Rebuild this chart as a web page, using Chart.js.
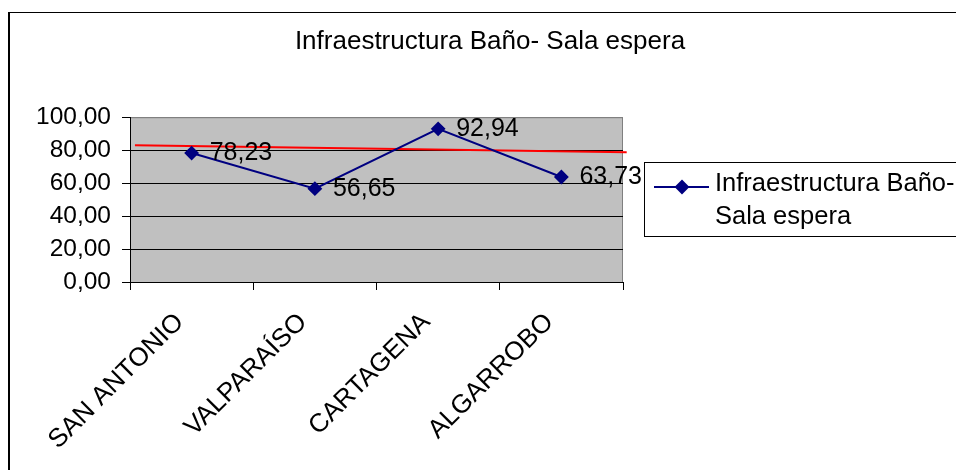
<!DOCTYPE html>
<html>
<head>
<meta charset="utf-8">
<script src="https://cdn.jsdelivr.net/npm/chart.js@4/dist/chart.umd.min.js"></script>
<style>
  body { margin: 0; background: #fff; overflow: hidden; }
  #frame { position: absolute; left: 8px; top: 12px; width: 2000px; height: 2000px;
           border-left: 2px solid #000; border-top: 1px solid #000; }
  #chart { position: absolute; left: 0; top: 0; }
</style>
</head>
<body>
<div id="frame"></div>
<canvas id="chart" width="956" height="470"></canvas>
<script>
const chartTitle = "Infraestructura Baño- Sala espera";
const seriesLabel = "Infraestructura Baño- Sala espera";
const legendLines = ["Infraestructura Baño-", "Sala espera"];
const cities = ["SAN ANTONIO", "VALPARAÍSO", "CARTAGENA", "ALGARROBO"];
const scores = [78.23, 56.65, 92.94, 63.73];
// red reference line (position in category units)
const refLineX = [-0.46, 3.53];
const refLineY = [83.0, 78.8];
const yTicks = [0, 20, 40, 60, 80, 100];

const FONT = "'Liberation Sans', Arial, sans-serif";
const NAVY = "#000080";

function fmt(v) {
    return v.toFixed(2).replace(".", ",");
}

const plotBackground = {
    id: "plotBackground",
    beforeDraw(chart) {
        const { ctx, chartArea: a } = chart;
        ctx.save();
        ctx.fillStyle = "#c0c0c0";
        ctx.fillRect(a.left, a.top, a.right - a.left, a.bottom - a.top);
        ctx.strokeStyle = "#808080";
        ctx.lineWidth = 1;
        ctx.strokeRect(a.left + 0.5, a.top + 0.5, a.right - a.left - 1, a.bottom - a.top);
        ctx.restore();
    }
};

const valueLabels = {
    id: "valueLabels",
    afterDatasetsDraw(chart) {
        const { ctx } = chart;
        const meta = chart.getDatasetMeta(0);
        ctx.save();
        ctx.font = "25px " + FONT;
        ctx.fillStyle = "#000";
        ctx.textAlign = "left";
        ctx.textBaseline = "middle";
        meta.data.forEach((pt, i) => {
            ctx.fillText(fmt(scores[i]), pt.x + 18, pt.y);
        });
        ctx.restore();
    }
};

const boxLegend = {
    id: "boxLegend",
    afterDraw(chart) {
        const { ctx } = chart;
        ctx.save();
        ctx.strokeStyle = "#000";
        ctx.lineWidth = 1;
        ctx.strokeRect(644.5, 162.5, 400, 74);
        ctx.strokeStyle = NAVY;
        ctx.lineWidth = 2;
        ctx.beginPath();
        ctx.moveTo(654, 187);
        ctx.lineTo(709, 187);
        ctx.stroke();
        Chart.helpers.drawPoint(ctx, { pointStyle: "rectRot", radius: 6, borderWidth: 1 }, 682, 187);
        ctx.fillStyle = NAVY;
        ctx.fill();
        ctx.fillStyle = "#000";
        ctx.font = "25.5px " + FONT;
        ctx.textBaseline = "middle";
        ctx.fillText(legendLines[0], 715, 184);
        ctx.fillText(legendLines[1], 715, 217);
        ctx.restore();
    }
};

new Chart(document.getElementById("chart"), {
    type: "line",
    data: {
        labels: cities,
        datasets: [{
            label: seriesLabel,
            data: scores,
            borderColor: NAVY,
            borderWidth: 2,
            pointStyle: "rectRot",
            pointRadius: 6,
            pointBackgroundColor: NAVY,
            pointBorderColor: NAVY,
            tension: 0
        },
        {
            label: "ref",
            data: refLineX.map((x, i) => ({ x: x, y: refLineY[i] })),
            xAxisID: "xRef",
            borderColor: "#ff0000",
            borderWidth: 2,
            pointRadius: 0,
            clip: false
        }]
    },
    options: {
        responsive: false,
        animation: false,
        layout: { padding: { left: 24, top: 0, right: 0, bottom: 0 } },
        plugins: {
            legend: { display: false },
            tooltip: { enabled: false },
            title: {
                display: true,
                text: chartTitle,
                color: "#000",
                font: { family: FONT, size: 26, weight: "normal" },
                padding: { top: 26, bottom: 60 }
            }
        },
        scales: {
            x: {
                type: "category",
                offset: true,
                grid: { offset: true, drawOnChartArea: false, drawTicks: true, tickLength: 8, color: "#000" },
                border: { color: "#000", width: 1 },
                ticks: {
                    color: "#000",
                    font: { family: FONT, size: 26 },
                    minRotation: 45,
                    maxRotation: 45,
                    autoSkip: false,
                    padding: 17,
                    labelOffset: -12
                },
                afterFit(scale) { scale.height = 188; }
            },
            xRef: {
                type: "linear",
                display: false,
                min: -0.5,
                max: 3.5
            },
            y: {
                min: 0,
                max: 100,
                afterBuildTicks(scale) { scale.ticks = yTicks.map(v => ({ value: v })); },
                grid: {
                    color: (c) => (c.tick && c.tick.value === 100 ? "#808080" : "#000"),
                    tickColor: "#000",
                    tickLength: 8,
                    lineWidth: 1
                },
                border: { color: "#000", width: 1 },
                ticks: {
                    color: "#000",
                    font: { family: FONT, size: 24.5 },
                    padding: 11,
                    callback: (v) => fmt(v)
                },
                afterFit(scale) { scale.width = 106; }
            },
            spacer: {
                position: "right",
                display: true,
                grid: { display: false },
                border: { display: false },
                ticks: { display: false },
                afterFit(scale) { scale.width = 333; }
            }
        }
    },
    plugins: [plotBackground, valueLabels, boxLegend]
});
</script>
</body>
</html>
